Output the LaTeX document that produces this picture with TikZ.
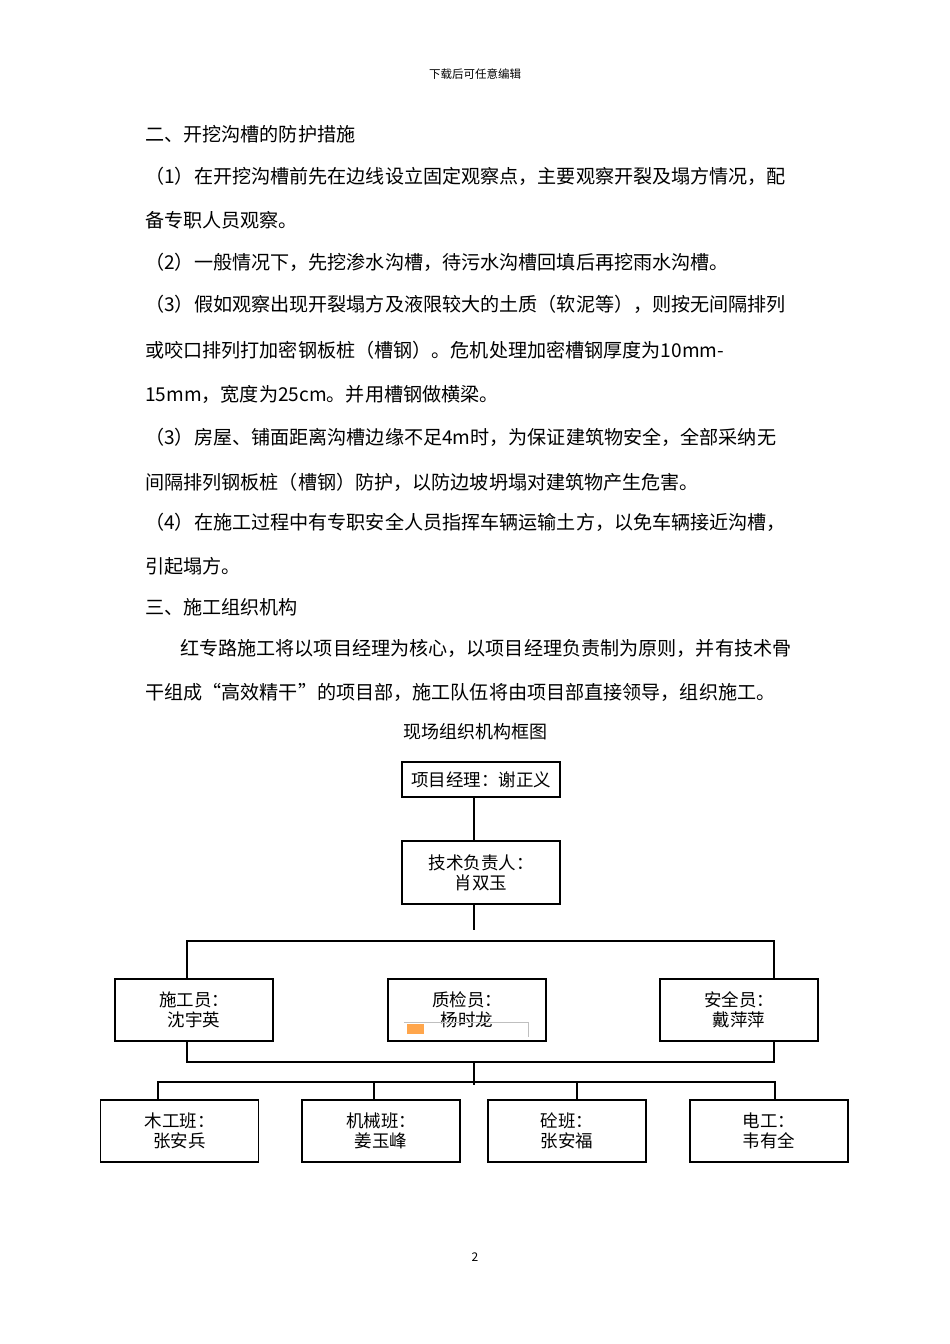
\documentclass[tikz,border=0pt]{standalone}
\usepackage{fontspec}
\setmainfont{Noto Sans CJK SC}
\begin{document}
\begin{tikzpicture}[x=1pt,y=-1pt,
  txt/.style={anchor=west,inner sep=0pt,font=\fontsize{19.1}{22}\selectfont},
  bx/.style={draw,line width=1.2pt,minimum width=158pt,inner sep=0pt,align=center,font=\fontsize{17.5}{20}\selectfont},
  ln/.style={line width=1.2pt}]
\useasboundingbox[fill=white] (0,0) rectangle (950,1344);
\node[inner sep=0pt,font=\fontsize{11.5}{13}\selectfont] (hd) at (475,74) {下载后可任意编辑};
\node[txt] (l1) at (145,134) {二、开挖沟槽的防护措施};
\node[txt] (l2) at (145,176) {（1）在开挖沟槽前先在边线设立固定观察点，主要观察开裂及塌方情况，配};
\node[txt] (l3) at (145,220) {备专职人员观察。};
\node[txt] (l4) at (145,262) {（2）一般情况下，先挖渗水沟槽，待污水沟槽回填后再挖雨水沟槽。};
\node[txt] (l5) at (145,304) {（3）假如观察出现开裂塌方及液限较大的土质（软泥等），则按无间隔排列};
\node[txt] (l6) at (145,350) {或咬口排列打加密钢板桩（槽钢）。危机处理加密槽钢厚度为10mm-};
\node[txt] (l7) at (145,394) {15mm，宽度为25cm。并用槽钢做横梁。};
\node[txt] (l8) at (145,437) {（3）房屋、铺面距离沟槽边缘不足4m时，为保证建筑物安全，全部采纳无};
\node[txt] (l9) at (145,482) {间隔排列钢板桩（槽钢）防护，以防边坡坍塌对建筑物产生危害。};
\node[txt] (l10) at (145,522) {（4）在施工过程中有专职安全人员指挥车辆运输土方，以免车辆接近沟槽，};
\node[txt] (l11) at (145,566) {引起塌方。};
\node[txt] (l12) at (145,607) {三、施工组织机构};
\node[txt] (l13) at (180,648) {红专路施工将以项目经理为核心，以项目经理负责制为原则，并有技术骨};
\node[txt] (l14) at (145,692) {干组成“高效精干”的项目部，施工队伍将由项目部直接领导，组织施工。};
\node[inner sep=0pt,font=\fontsize{18}{20}\selectfont] (tt) at (475,732) {现场组织机构框图};
% chart
\node[bx,minimum height=35pt] (pm) at (481,779.5) {项目经理：谢正义};
\node[bx,minimum height=63pt] (tech) at (481,872.5) {技术负责人：\\肖双玉};
\node[bx,minimum height=62pt] (sg) at (194,1010) {施工员：\\沈宇英};
\node[bx,minimum height=62pt] (zj) at (467,1010) {质检员：\\杨时龙};
\node[bx,minimum height=62pt] (aq) at (739,1010) {安全员：\\戴萍萍};
\node[bx,minimum height=62pt] (mg) at (179.5,1131) {木工班：\\张安兵};
\node[bx,minimum height=62pt] (jx) at (381,1131) {机械班：\\姜玉峰};
\node[bx,minimum height=62pt] (tb) at (567,1131) {砼班：\\张安福};
\node[bx,minimum height=62pt] (dg) at (769,1131) {电工：\\韦有全};
\draw[gray!50] (404,1022) -- (528,1022) -- (528,1037);
\fill[orange!70] (407,1024) rectangle (424,1034);
\coordinate (a1) at (474,930);
\coordinate (h1l) at (187,941);
\coordinate (h1r) at (774,941);
\coordinate (h2l) at (187,1062);
\coordinate (h2r) at (774,1062);
\coordinate (m2) at (474,1062);
\coordinate (m3) at (474,1085);
\coordinate (b1) at (158,1082);
\coordinate (b4) at (775,1082);
\draw[ln] (pm.south -| a1) -- (tech.north -| a1);
\draw[ln] (tech.south -| a1) -- (a1);
\draw[ln] (sg.north -| h1l) -- (h1l) -- (h1r) -- (aq.north -| h1r);
\draw[ln] (sg.south -| h2l) -- (h2l) -- (h2r) -- (aq.south -| h2r);
\draw[ln] (m2) -- (m3);
\draw[ln] (mg.north -| b1) -- (b1) -- (b4) -- (dg.north -| b4);
\draw[ln] (jx.north -| 374,0) -- (374,1082);
\draw[ln] (tb.north -| 577,0) -- (577,1082);
\node[inner sep=0pt,font=\fontsize{12}{14}\selectfont] (pg) at (475,1257) {2};
\end{tikzpicture}
\end{document}
